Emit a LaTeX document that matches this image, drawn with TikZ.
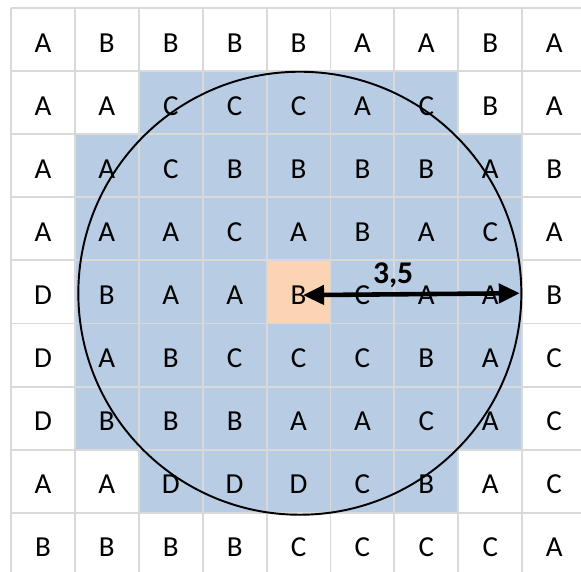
\documentclass[tikz,border=0pt]{standalone}
\usepackage{fontspec}
\setmainfont{Carlito}
\usetikzlibrary{arrows.meta}
\definecolor{cellblue}{HTML}{B8CCE4}
\definecolor{cellpeach}{HTML}{FBD4B4}
\definecolor{gridgray}{HTML}{D9D9D9}
\begin{document}
\begin{tikzpicture}[x=1.278cm,y=-1.262cm,
  cell/.style={minimum width=1.278cm, minimum height=1.262cm, inner sep=0pt, font=\fontsize{16.5}{19}\selectfont},
  gridline/.style={draw=gridgray, line width=1.1pt},
  ringstyle/.style={draw=black, circle, line width=1.1pt, minimum size=8.86cm, inner sep=0pt},
  dimarrow/.style={line width=2.6pt, {Triangle[length=0.42cm,width=0.38cm]}-{Triangle[length=0.42cm,width=0.38cm]}},
  dimlabel/.style={font=\bfseries\fontsize{18}{21}\selectfont, anchor=base, inner sep=0pt}]
\useasboundingbox (-0.172,-0.127) rectangle (8.920,8.922);
\clip (-0.172,-0.127) rectangle (8.920,8.922);
\fill[white] (-0.172,-0.127) rectangle (8.920,8.922);
% shaded region
\fill[cellblue] (2,1) rectangle (7,2);
\fill[cellblue] (1,2) rectangle (8,7);
\fill[cellblue] (2,7) rectangle (7,8);
\fill[cellpeach] (4,4) rectangle (5,5);
% grid
\foreach \i in {0,...,9} {
  \draw[gridline] (\i,0) -- (\i,9.2);
  \draw[gridline] (0,\i) -- (9.2,\i);
}
% letters
\foreach \row [count=\r from 0] in {
  {A,B,B,B,B,A,A,B,A},
  {A,A,C,C,C,A,C,B,A},
  {A,A,C,B,B,B,B,A,B},
  {A,A,A,C,A,B,A,C,A},
  {D,B,A,A,B,C,A,A,B},
  {D,A,B,C,C,C,B,A,C},
  {D,B,B,B,A,A,C,A,C},
  {A,A,D,D,D,C,B,A,C},
  {B,B,B,B,C,C,C,C,A}} {
  \foreach \ch [count=\c from 0] in \row {
    \node[cell] (c-\r-\c) at (\c+0.5,\r+0.55) {\ch};
  }
}
% circle and radius
\node[ringstyle] (ring) at (4.52,4.52) {};
\draw[dimarrow] ([xshift=0.09cm]c-4-4.center) -- ([xshift=-0.05cm]ring.east);
\node[dimlabel] (lbl) at (5.98,4.36) {3,5};
\end{tikzpicture}
\end{document}
